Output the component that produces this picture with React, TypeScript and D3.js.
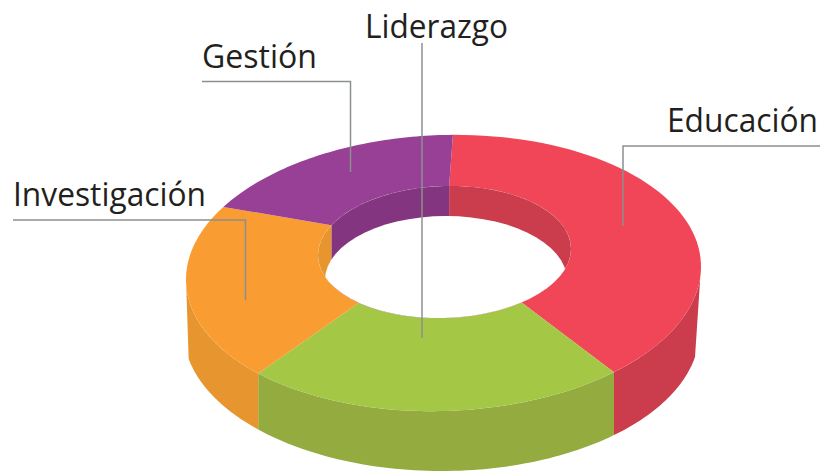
import React from "react";
import * as d3 from "d3";

const categories = ["Educación", "Liderazgo", "Investigación", "Gestión"];
const shares = [37.9, 24.3, 20.9, 16.9];
const innerShiftDeg = [3.9, -3.4, -4.7, 0];
const faceColors = ["#F04657", "#A4C746", "#F99D33", "#974096"];
const wallColors = ["#CB3D4C", "#94AB40", "#E7952F", "#84357F"];
const labelX = [667, 365, 13, 202];
const labelBase = [132, 38, 206, 68];
const labelWidth = [151, 143, 193, 115];
const leaders = [
  [[820, 146], [623, 146], [623, 226]],
  [[422, 43], [422, 338]],
  [[13, 220], [245.5, 220], [245.5, 300]],
  [[202, 81.5], [350.5, 81.5], [350.5, 172]],
];

const W = 821, H = 471;
const rad = (d: number) => (d * Math.PI) / 180;
type E = { cx: number; cy: number; rx: number; ry: number; k: number };
const topOuter: E = { cx: 443.5, cy: 273, rx: 257.5, ry: 138, k: 0.025 };
const topInner: E = { cx: 444.5, cy: 252, rx: 126.5, ry: 66, k: 0.025 };
const holeFloor: E = { cx: 446, cy: 280, rx: 121, ry: 64, k: 0 };
const bottomOuter: E = { cx: 441.5, cy: 331, rx: 258, ry: 140, k: 0 };

const pt = (e: E, deg: number): [number, number] => {
  const dx = e.rx * Math.sin(rad(deg));
  return [e.cx + dx, e.cy - e.ry * Math.cos(rad(deg)) - e.k * dx];
};
const arc = (e: E, a: number, b: number) =>
  d3.range(0, 61).map((i) => pt(e, a + ((b - a) * i) / 60));
const line = d3.line<[number, number]>();

const startDeg = 2.1;
const cum = [0, ...d3.cumsum(shares)];
const angle = d3.scaleLinear().domain([0, d3.sum(shares)]).range([startDeg, startDeg + 360]);
const segs = shares.map((_, i) => {
  const a = angle(cum[i]);
  const b = angle(cum[i + 1]);
  const ia = a + (i === 0 ? 0 : innerShiftDeg[i - 1]);
  const ib = b + innerShiftDeg[i];
  return { a, b, ia, ib };
});

// front angle on the lower rim that shares an x with a point of the upper rim
const bottomDegAtX = (x: number) => {
  const s = Math.max(-1, Math.min(1, (x - bottomOuter.cx) / bottomOuter.rx));
  return 180 - (Math.asin(s) * 180) / Math.PI;
};
const rightCornerDeg = 100.7;
const leftCornerDeg = 258.5;

const wallPath = (a: number, b: number) => {
  const lo = Math.max(a, 90);
  const hi = Math.min(b, 270);
  if (hi <= lo) return null;
  const bLo = a < 90 ? rightCornerDeg : bottomDegAtX(pt(topOuter, lo)[0]);
  const bHi = b > 270 ? leftCornerDeg : bottomDegAtX(pt(topOuter, hi)[0]);
  return line([...arc(topOuter, lo, hi), ...arc(bottomOuter, bHi, bLo)]) + "Z";
};

const innerWalls = (() => {
  const xs = segs.map((s) => pt(topInner, s.ib)[0]);
  return [
    { i: 0, x0: pt(topInner, segs[0].ia)[0], x1: W },
    { i: 3, x0: xs[2], x1: pt(topInner, segs[0].ia)[0] },
    { i: 2, x0: 0, x1: xs[2] },
  ];
})();

export default function App() {
  return (
    <svg
      width={W}
      height={H}
      viewBox={`0 0 ${W} ${H}`}
      style={{ position: "fixed", left: 0, top: 0, background: "#fff" }}
    >
      <defs>
        <clipPath id="innerClip">
          <path d={line(arc(topInner, 0, 360)) + "Z"} />
        </clipPath>
      </defs>
      {segs.map((s, i) => {
        const d = wallPath(s.a, s.b);
        return d ? <path key={i} d={d} fill={wallColors[i]} /> : null;
      })}
      {segs.map((s, i) => (
        <path
          key={i}
          d={line([...arc(topOuter, s.a, s.b), ...arc(topInner, s.ib, s.ia)]) + "Z"}
          fill={faceColors[i]}
        />
      ))}
      <g clipPath="url(#innerClip)">
        {innerWalls.map((w) => (
          <rect key={w.i} x={w.x0} y={0} width={w.x1 - w.x0} height={H} fill={wallColors[w.i]} />
        ))}
        <path d={line(arc(holeFloor, 0, 360)) + "Z"} fill="#fff" />
      </g>
      {leaders.map((l, i) => (
        <path
          key={i}
          d={line(l as [number, number][]) as string}
          fill="none"
          stroke="#8C8F91"
          strokeWidth={1.5}
        />
      ))}
      {categories.map((c, i) => (
        <text
          key={c}
          x={labelX[i]}
          y={labelBase[i]}
          fontFamily="'Open Sans', 'Noto Sans', sans-serif"
          fontSize={32}
          fill="#231F20"
          textLength={labelWidth[i]}
          lengthAdjust="spacingAndGlyphs"
        >
          {c}
        </text>
      ))}
    </svg>
  );
}
